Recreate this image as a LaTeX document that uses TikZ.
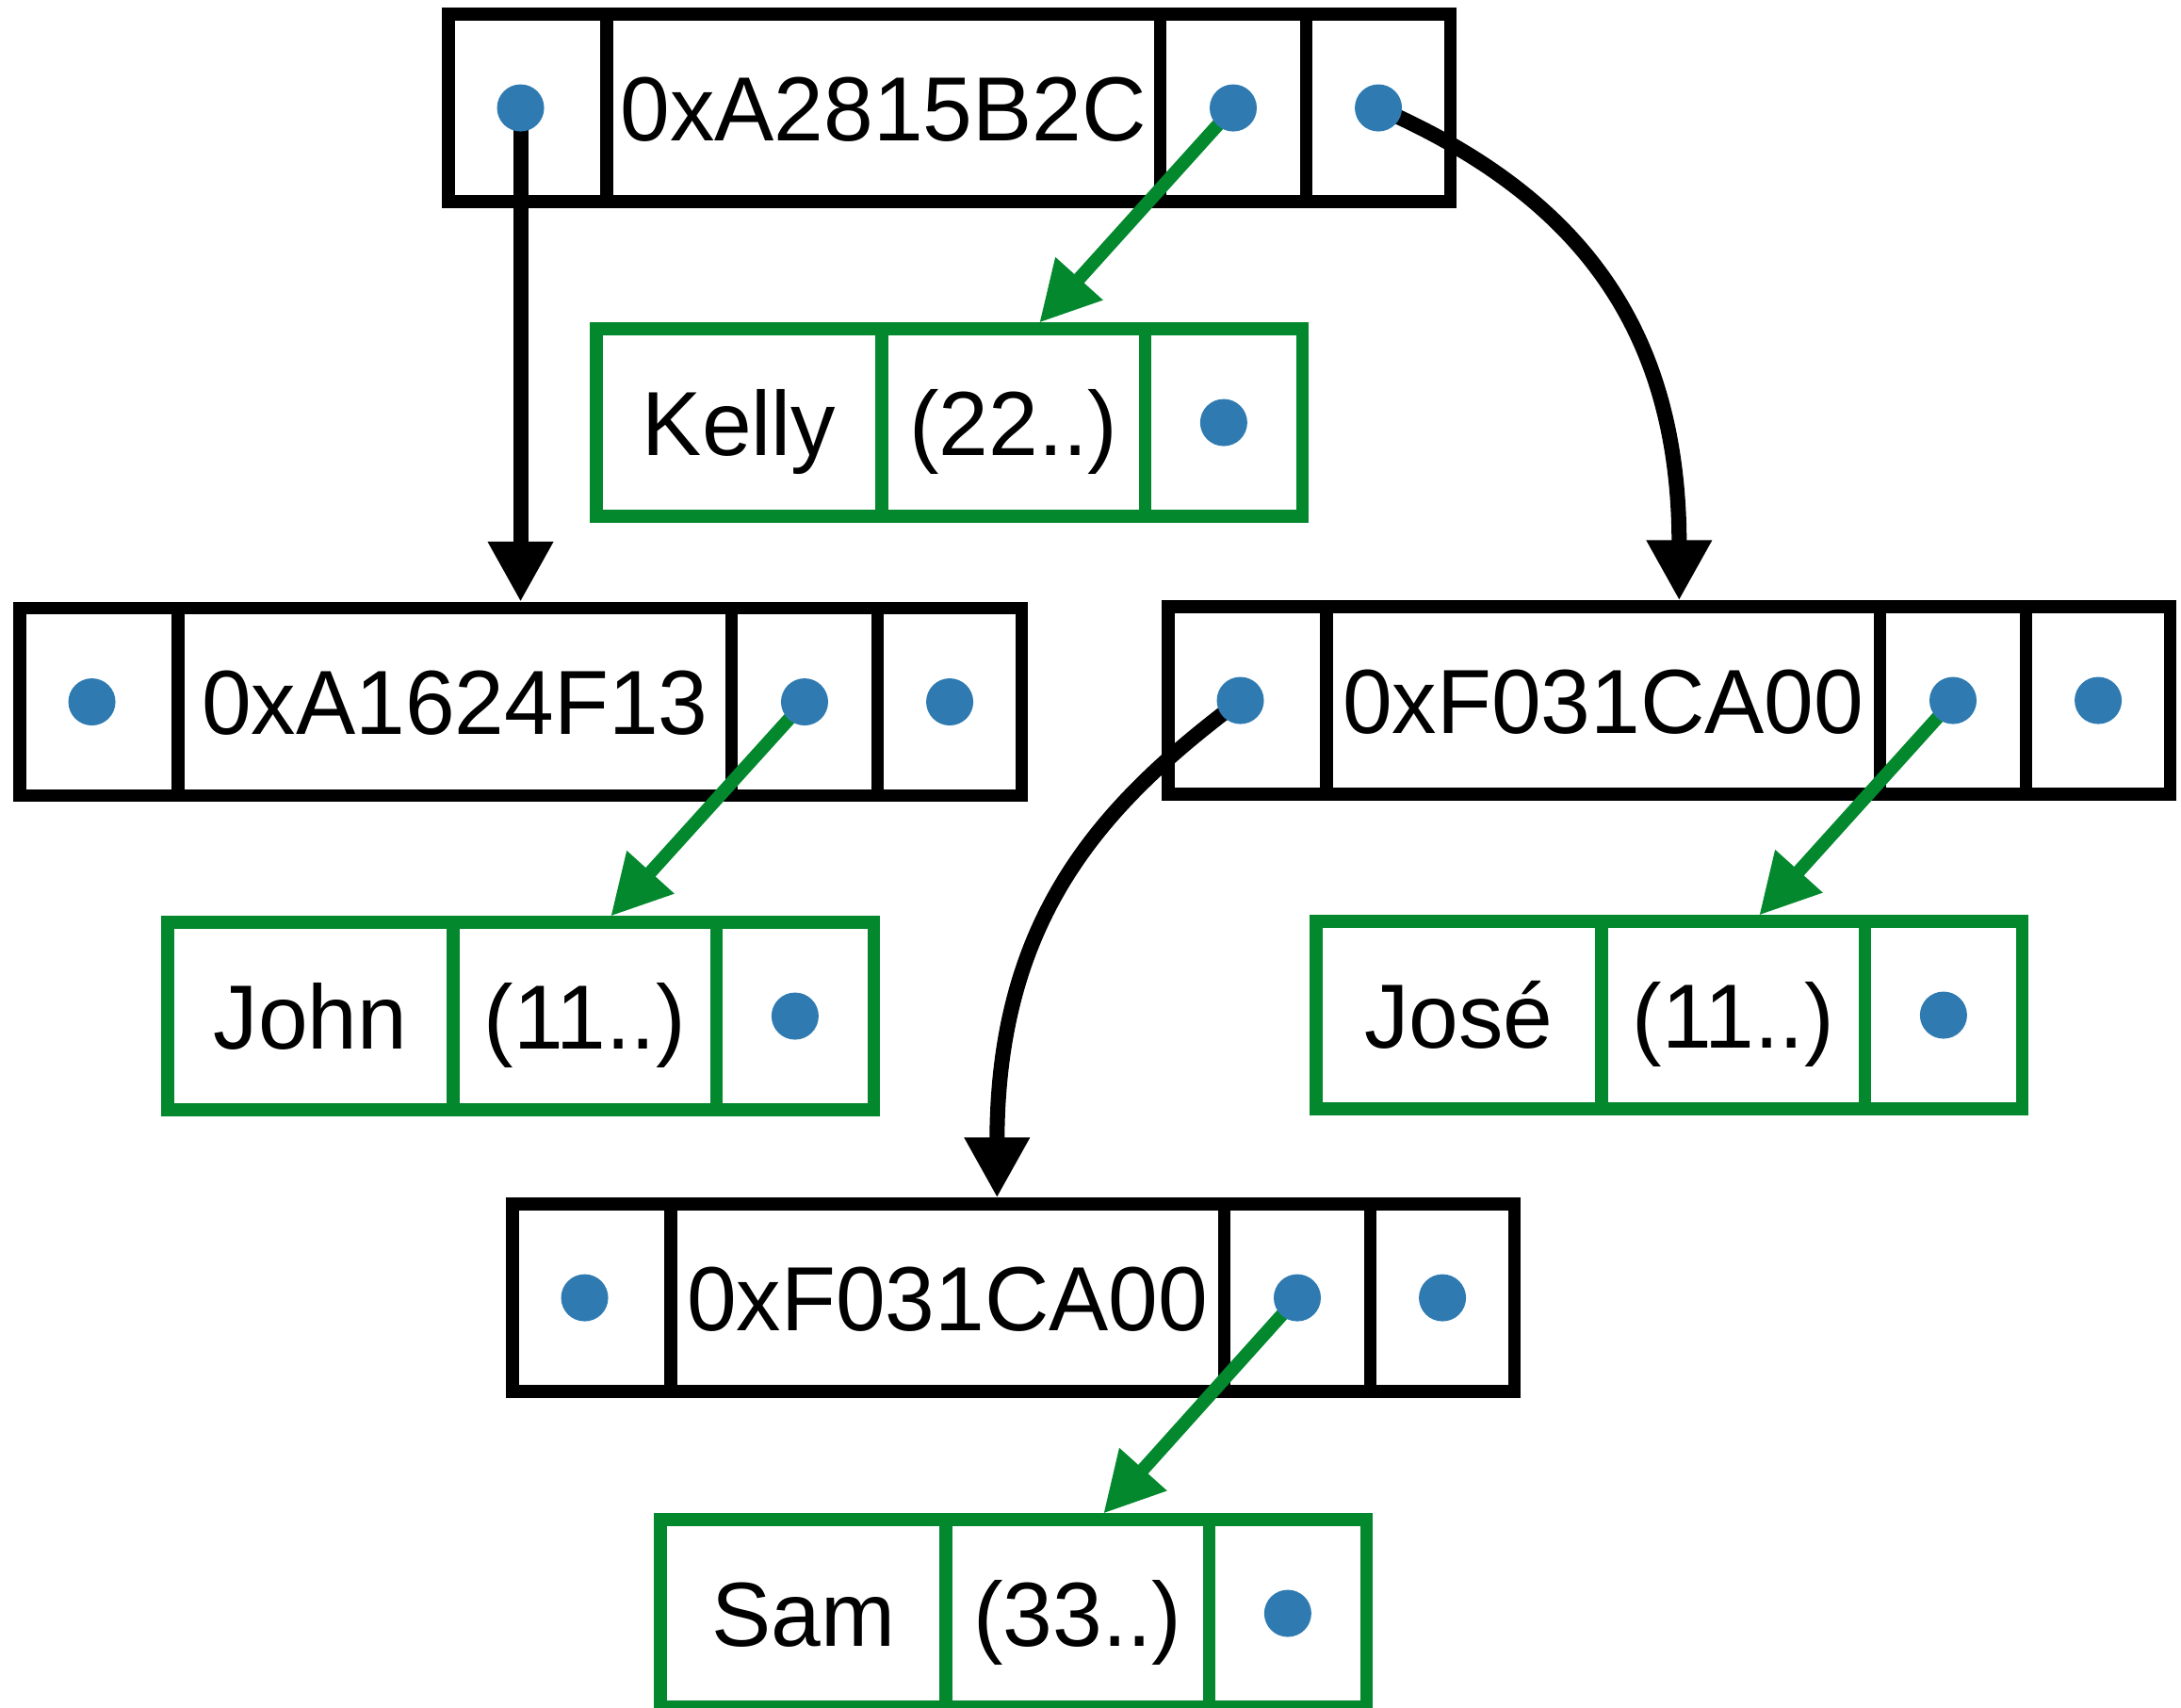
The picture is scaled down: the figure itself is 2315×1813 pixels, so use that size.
\documentclass[tikz,border=0pt]{standalone}
\usepackage{fontspec}
\setmainfont{Liberation Sans}[FakeStretch=0.98]
\usetikzlibrary{arrows.meta}
\pgfdeclarelayer{front}
\pgfsetlayers{main,front}

\definecolor{linkgreen}{RGB}{3,136,46}
\definecolor{dotblue}{RGB}{47,123,177}

\tikzset{
  cellbase/.style={rectangle, line width=1.35mm, minimum height=1.99cm,
    inner sep=0pt, outer sep=0pt, text height=19.7pt, text depth=0pt,
    font=\fontsize{27.5pt}{33pt}\selectfont, anchor=north west},
  bcell/.style={cellbase, draw=black},
  gcell/.style={cellbase, draw=linkgreen},
  ptrdot/.style={circle, fill=dotblue, minimum size=5mm, inner sep=0pt},
  ptr/.style={line width=1.6mm, -{Triangle[length=6.4mm, width=6.5mm]}},
  gptr/.style={line width=1.4mm, draw=linkgreen, fill=linkgreen,
    -{Triangle[length=6.3mm, width=6.4mm]}},
}

% tree node: left pointer | key | value pointer | right pointer
\newcommand\treenode[4]{%
  \node[bcell, minimum width=1.68cm] (#1-1) at (#2,#3) {};
  \node[bcell, minimum width=5.87cm] (#1-2) at (#1-1.north east) {#4};
  \node[bcell, minimum width=1.55cm] (#1-3) at (#1-2.north east) {};
  \node[bcell, minimum width=1.53cm] (#1-4) at (#1-3.north east) {};
  \coordinate (#1-top) at ([yshift=0.065cm]#1-1.north west);
  \begin{pgfonlayer}{front}
    \node[ptrdot] (#1-d1) at ([xshift=-0.075cm]#1-1.center) {};
    \node[ptrdot] (#1-d3) at (#1-3.center) {};
    \node[ptrdot] (#1-d4) at (#1-4.center) {};
  \end{pgfonlayer}
}

% record: name | data | next pointer
\newcommand\record[5]{%
  \node[gcell, minimum width=3.03cm] (#1-1) at (#2,#3) {#4};
  \node[gcell, minimum width=2.79cm] (#1-2) at (#1-1.north east) {#5};
  \node[gcell, minimum width=1.67cm] (#1-3) at (#1-2.north east) {};
  \coordinate (#1-in) at ([xshift=4.70cm, yshift=0.065cm]#1-1.north west);
  \begin{pgfonlayer}{front}
    \node[ptrdot] (#1-d) at (#1-3.center) {};
  \end{pgfonlayer}
}

\begin{document}
\begin{tikzpicture}[x=0.01cm, y=-0.01cm]
\path[use as bounding box] (0,0) rectangle (2315,1813);

\treenode{A}{476}{15}{0xA2815B2C}
\treenode{B}{21}{645.5}{0xA1624F13}
\treenode{C}{1240}{644}{0xF031CA00}
\treenode{D}{544}{1278}{0xF031CA00}

\record{Kelly}{633}{349}{Kelly}{(22..)}
\record{John}{178}{979}{John}{(11..)}
\record{Jose}{1397}{978}{José}{(11..)}
\record{Sam}{701}{1613}{Sam}{(33..)}

% child links
\draw[ptr] (A-d1.center) -- (A-d1.center |- B-top);
\draw[ptr] (A-d4.center) .. controls +(201,88) and +(0,-300) .. ([xshift=5.42cm]C-top);
\draw[ptr] (C-d1.center) .. controls +(-144,108) and +(0,-300) .. ([xshift=5.14cm]D-top);

% value links
\draw[gptr] (A-d3.center) -- (Kelly-in);
\draw[gptr] (B-d3.center) -- (John-in);
\draw[gptr] (C-d3.center) -- (Jose-in);
\draw[gptr] (D-d3.center) -- (Sam-in);
\end{tikzpicture}
\end{document}
